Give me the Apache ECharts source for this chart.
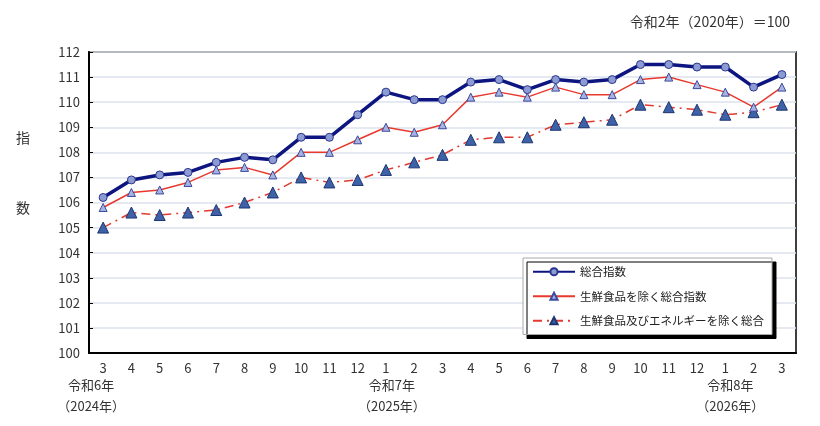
<!DOCTYPE html>
<html lang="ja">
<head>
    <meta charset="UTF-8">
    <title>消費者物価指数</title>
    <style>
        * {
            margin: 0px;
            padding: 0px;
        }

        #main {
            width: 820px;
            height: 426px;
        }
    </style>
</head>
<body>
<div id="main"></div>
<script src="https://cdn.jsdelivr.net/npm/echarts@6/dist/echarts.min.js"></script>
<script type="text/javascript">
    // 月（令和6年3月〜令和8年3月）
    var months = ['3', '4', '5', '6', '7', '8', '9', '10', '11', '12', '1', '2', '3',
        '4', '5', '6', '7', '8', '9', '10', '11', '12', '1', '2', '3'];
    // 年の見出し: [月のindex, 和暦, 西暦, ずらし]
    var yearLabels = [
        [0, '令和6年', '（2024年）', -12],
        [10, '令和7年', '（2025年）', 6],
        [22, '令和8年', '（2026年）', 5]
    ];
    var seriesNames = ['総合指数', '生鮮食品を除く総合指数', '生鮮食品及びエネルギーを除く総合'];
    var sogo = [106.2, 106.9, 107.1, 107.2, 107.6, 107.8, 107.7, 108.6, 108.6, 109.5, 110.4, 110.1, 110.1,
        110.8, 110.9, 110.5, 110.9, 110.8, 110.9, 111.5, 111.5, 111.4, 111.4, 110.6, 111.1];
    var excFresh = [105.8, 106.4, 106.5, 106.8, 107.3, 107.4, 107.1, 108.0, 108.0, 108.5, 109.0, 108.8, 109.1,
        110.2, 110.4, 110.2, 110.6, 110.3, 110.3, 110.9, 111.0, 110.7, 110.4, 109.8, 110.6];
    var excFreshEnergy = [105.0, 105.6, 105.5, 105.6, 105.7, 106.0, 106.4, 107.0, 106.8, 106.9, 107.3, 107.6, 107.9,
        108.5, 108.6, 108.6, 109.1, 109.2, 109.3, 109.9, 109.8, 109.7, 109.5, 109.6, 109.9];

    var font = '"Noto Sans CJK JP", "Noto Sans", sans-serif';
    var myChart = echarts.init(document.getElementById('main'));

    myChart.setOption({
        animation: false,
        textStyle: {fontFamily: font},
        grid: {
            left: 89,
            right: 24,
            top: 52,
            bottom: 73,
            show: true,
            borderColor: '#000',
            borderWidth: 1.5
        },
        legend: {
            orient: 'vertical',
            left: 523,
            top: 258,
            data: seriesNames,
            itemWidth: 42,
            itemHeight: 9,
            itemGap: 13,
            padding: [8, 8, 8, 9],
            backgroundColor: '#fff',
            borderColor: '#aaa',
            borderWidth: 1,
            shadowColor: '#000',
            shadowBlur: 0,
            shadowOffsetX: 4,
            shadowOffsetY: 4,
            textStyle: {fontSize: 11.5, color: '#222', fontFamily: font}
        },
        xAxis: {
            type: 'category',
            data: months,
            boundaryGap: true,
            axisLine: {lineStyle: {color: '#000', width: 2}},
            axisTick: {show: false},
            axisLabel: {color: '#333', fontSize: 13, margin: 9}
        },
        yAxis: {
            type: 'value',
            min: 100,
            max: 112,
            interval: 1,
            axisLine: {show: true, lineStyle: {color: '#000', width: 2}},
            axisTick: {show: true, inside: true, length: 4, lineStyle: {color: '#000'}},
            axisLabel: {color: '#333', fontSize: 13, margin: 9},
            splitLine: {lineStyle: {color: '#dde3ee', width: 1.5}}
        },
        series: [
            {
                name: seriesNames[0],
                type: 'line',
                data: sogo,
                z: 4,
                symbol: 'circle',
                symbolSize: 8,
                lineStyle: {color: '#0c1580', width: 3.5},
                itemStyle: {color: '#8c9bd2', borderColor: '#2a3590', borderWidth: 1}
            },
            {
                name: seriesNames[1],
                type: 'line',
                data: excFresh,
                z: 3,
                symbol: 'triangle',
                symbolSize: 8,
                lineStyle: {color: '#e8392f', width: 1.5},
                itemStyle: {color: '#a6b2e2', borderColor: '#3b4a9c', borderWidth: 1}
            },
            {
                name: seriesNames[2],
                type: 'line',
                data: excFreshEnergy,
                z: 2,
                symbol: 'triangle',
                symbolSize: 11,
                lineStyle: {color: '#e23a30', width: 1.5, type: [9, 5, 2, 5]},
                itemStyle: {color: '#3d62a8', borderColor: '#1d3570', borderWidth: 1}
            }
        ]
    });

    // 年の見出し、単位、縦書きの「指数」
    var graphics = [
        {type: 'text', right: 30, top: 15, style: {text: '令和2年（2020年）＝100', fill: '#333', fontSize: 14, fontFamily: font}},
        {type: 'text', x: 23, y: 138, style: {text: '指', fill: '#333', fontSize: 14, fontFamily: font, align: 'center', verticalAlign: 'middle'}},
        {type: 'text', x: 23, y: 208, style: {text: '数', fill: '#333', fontSize: 14, fontFamily: font, align: 'center', verticalAlign: 'middle'}}
    ];
    yearLabels.forEach(function (y) {
        var px = myChart.convertToPixel({xAxisIndex: 0}, y[0]) + y[3];
        graphics.push({type: 'text', x: px, y: 385, style: {text: y[1], fill: '#333', fontSize: 13, fontFamily: font, align: 'center', verticalAlign: 'middle'}});
        graphics.push({type: 'text', x: px, y: 406, style: {text: y[2], fill: '#333', fontSize: 13, fontFamily: font, align: 'center', verticalAlign: 'middle'}});
    });
    myChart.setOption({graphic: graphics});
</script>
</body>
</html>
